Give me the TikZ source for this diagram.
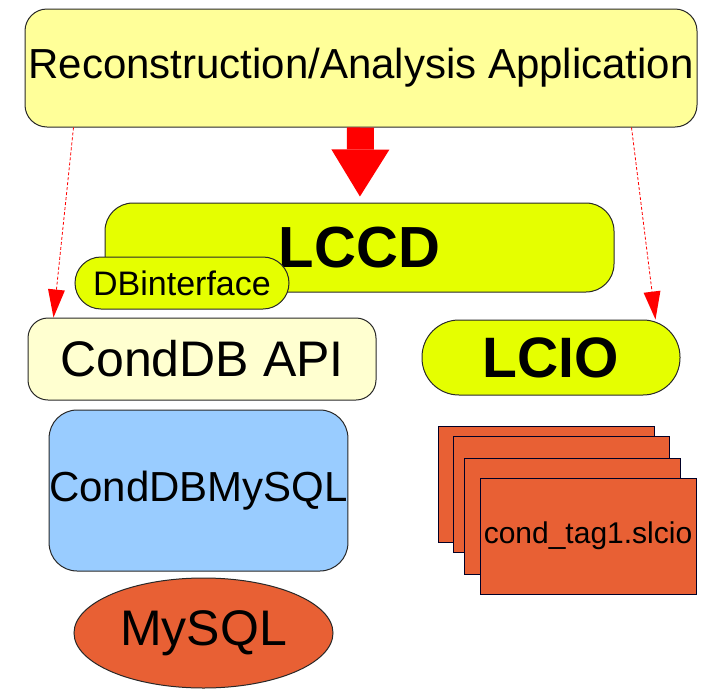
\documentclass[tikz,border=0pt]{standalone}
\usepackage{fontspec}
\setmainfont{Liberation Sans}
\usetikzlibrary{arrows.meta,shapes.geometric}
\definecolor{paleyellow}{RGB}{255, 255, 153}
\definecolor{cream}{RGB}{255, 255, 208}
\definecolor{lime}{RGB}{229, 255, 0}
\definecolor{skyblue}{RGB}{153, 204, 255}
\definecolor{brick}{RGB}{232, 96, 52}
\definecolor{outline}{RGB}{40, 40, 40}
\tikzset{
  box/.style={draw=outline, line width=1pt, inner sep=0pt},
  filebox/.style={box, fill=brick, draw=black!85!blue, minimum width=216pt, minimum height=116pt},
  depends/.style={red, line width=0.8pt, dash pattern=on 3pt off 2pt, -{Triangle[length=28pt,width=17pt,line width=0pt]}},
  uses/.style={red, line width=27pt, -{Triangle[length=47pt,width=58pt,line width=0pt]}, shorten >=6pt},
}
\newcommand{\fs}[1]{\fontsize{#1}{#1}\selectfont}

\begin{document}
\begin{tikzpicture}[x=1pt, y=-1pt]
  \useasboundingbox (0,0) rectangle (713,691);
  \node[box, fill=paleyellow, rounded corners=22pt, minimum width=672pt, minimum height=118pt, font=\fs{42}]       (app)    at (361.0, 68.0) {Reconstruction/Analysis Application};
  \node[box, fill=lime,       rounded corners=28pt, minimum width=509pt, minimum height=89pt,  font=\fs{58}\bfseries] (lccd) at (359.5,247.5) {LCCD};
  \node[box, fill=lime,       rounded corners=26pt, minimum width=214pt, minimum height=52pt,  font=\fs{34}]       (dbi)    at (182.0,283.0) {DBinterface};
  \node[box, fill=cream,      rounded corners=20pt, minimum width=348pt, minimum height=82pt,  font=\fs{50}]       (api)    at (202.0,359.0) {CondDB API};
  \node[box, fill=lime,       rounded corners=37pt, minimum width=258pt, minimum height=75pt,  font=\fs{57}\bfseries] (lcio) at (551.0,357.5) {LCIO};
  \node[box, fill=skyblue,    rounded corners=28pt, minimum width=297pt, minimum height=161pt, font=\fs{42}]       (condmy) at (198.5,490.5) {CondDBMySQL};
  \node[box, fill=brick, ellipse,                   minimum width=259pt, minimum height=110pt, font=\fs{50}]       (mysql)  at (203.5,633.0) {MySQL};
  \node[filebox] (file1) at (546.5,484.5) {};
  \node[filebox] (file2) at (561.0,494.5) {};
  \node[filebox] (file3) at (572.0,516.0) {};
  \node[filebox, font=\fs{30}] (file4) at (588.0,536.0) {cond\_tag1.slcio};
  \draw[uses]    (app) -- (lccd);
  \draw[depends] ([xshift=49pt]app.south west) -- ([xshift=26pt]api.north west);
  \draw[depends] ([xshift=-66pt]app.south east) -- ([xshift=-25pt]lcio.north east);
\end{tikzpicture}
\end{document}
